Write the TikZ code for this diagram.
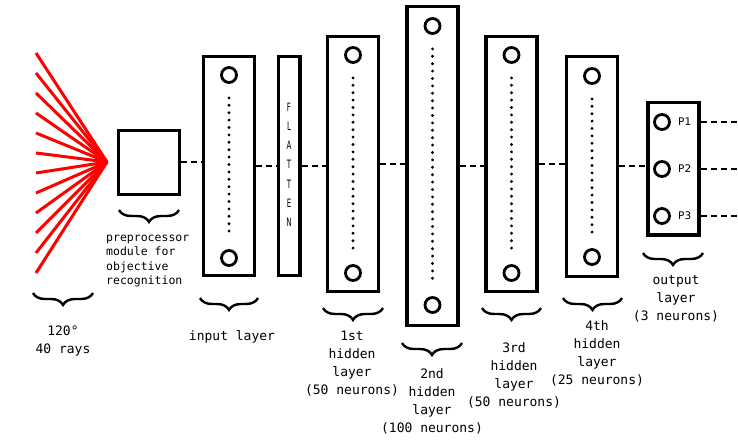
\documentclass[tikz,border=0pt]{standalone}
\usepackage{fontspec}
\setmonofont{DejaVu Sans Mono}
\newfontfamily\flatfont{DejaVu Sans}
\usetikzlibrary{decorations.pathreplacing}

\begin{document}
\begin{tikzpicture}[x=1pt,y=-1pt,
    layer/.style={draw, line width=3.5pt, inner sep=0pt, minimum width=51},
    neuron/.style={draw, circle, line width=2.8pt, inner sep=0pt, minimum size=15},
    dots/.style={line width=3.2pt, line cap=round, dash pattern=on 0pt off 7.4pt, shorten <=14pt, shorten >=11pt},
    link/.style={line width=2pt, dash pattern=on 6pt off 4pt},
    ray/.style={red, line width=3pt},
    curly/.style={line width=2.4pt, decorate, decoration={brace, mirror, amplitude=12pt}},
    lbl/.style={font=\ttfamily\fontsize{13}{18}\selectfont, align=center, inner sep=0pt},
  ]
    \useasboundingbox (0,0) rectangle (738,446);
    \coordinate (apex) at (107,162);
    \foreach \i in {0,...,11} \draw[ray] (apex) -- (36,{53+20*\i});
    \node[layer, minimum width=61, minimum height=64] (pre) at (149,162.5) {};
    \node[layer, minimum width=21.5, minimum height=219] (flat) at (289,166) {};
    \foreach \l [count=\k] in {F,L,A,T,T,E,N}
      \node[font=\flatfont\fontsize{11.5}{11.5}\selectfont, inner sep=0pt] (f\k) at (289,{88+19.2*\k}) {\scalebox{0.62}[1]{\l}};
    \foreach \n/\x/\y/\h/\t/\b in {inp/229/166/219/75/258, h1/353/164/255/55/273, h2/432.5/166/319/26/305, h3/511.5/164/255/55/273, h4/592/166.5/220/76/257} {
      \node[layer, minimum height=\h] (\n) at (\x,\y) {};
      \node[neuron] (\n-a) at (\x,\t) {};
      \node[neuron] (\n-b) at (\x,\b) {};
      \draw[dots] (\n-a) -- (\n-b);
    }
    \node[layer, minimum height=132.5] (out) at (673.5,168.7) {};
    \foreach \k/\y in {1/122,2/169,3/216} {
      \node[neuron] (o\k) at (662,\y) {};
      \node[font=\flatfont\fontsize{10.5}{10.5}\selectfont, anchor=west, inner sep=0pt] (p\k) at (678,\y) {P\k};
      \coordinate (e\k) at (738,\y);
      \draw[link] (out.east |- o\k) -- (e\k);
    }
    \draw[link] (pre.east) -- (pre.east -| inp.west);
    \draw[link] (inp.east) -- (inp.east -| flat.west);
    \draw[link] (flat.east) -- (flat.east -| h1.west);
    \foreach \a/\b in {h1/h2, h2/h3, h3/h4, h4/out} \draw[link] (\a.east) -- (\a.east -| \b.west);
    \draw[curly] (33,293) -- (93,293);
    \draw[curly] (119,210) -- (179,210);
    \draw[curly] (200,298) -- (258,298);
    \draw[curly] (323,308) -- (383,308);
    \draw[curly] (402,343) -- (462,343);
    \draw[curly] (482,308) -- (541,308);
    \draw[curly] (563,298) -- (622,298);
    \draw[curly] (643,253) -- (703,253);
    \node[lbl] (raylbl) at (63,341.5) {120°\\40 rays};
    \node[lbl, font=\ttfamily\fontsize{11.5}{14.5}\selectfont, align=left, anchor=west] (prelbl) at (106,261) {preprocessor\\module for\\objective\\recognition};
    \node[lbl] (inplbl) at (232,337) {input layer};
    \node[lbl] (h1lbl) at (352,363.5) {1st\\hidden\\layer\\(50 neurons)};
    \node[lbl] (h2lbl) at (432,401.5) {2nd\\hidden\\layer\\(100 neurons)};
    \node[lbl] (h3lbl) at (514,375) {3rd\\hidden\\layer\\(50 neurons)};
    \node[lbl] (h4lbl) at (597,353.5) {4th\\hidden\\layer\\(25 neurons)};
    \node[lbl] (outlbl) at (676,299) {output\\layer\\(3 neurons)};
\end{tikzpicture}
\end{document}
